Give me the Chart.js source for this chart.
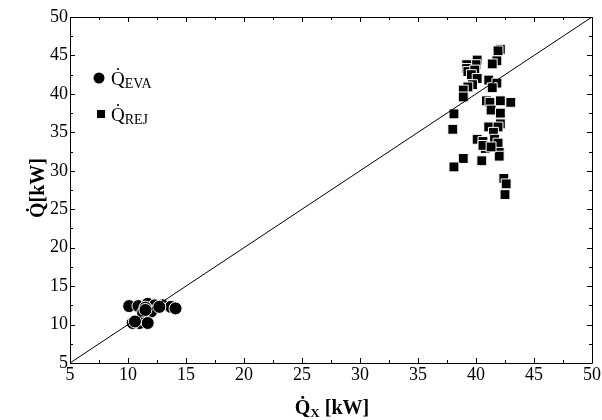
<!DOCTYPE html>
<html>
<head>
<meta charset="utf-8">
<script src="https://cdn.jsdelivr.net/npm/chart.js@4.4.0/dist/chart.umd.min.js"></script>
<style>
  html, body { margin: 0; padding: 0; background: #fff; }
  #wrap { width: 602px; height: 420px; position: relative; }
</style>
</head>
<body>
<div id="wrap"><canvas id="qChart"></canvas></div>
<script>
// evaporator heat vs. Q_X [kW]
const evaX = [10.1, 10.9, 11.7, 12.3, 13.0, 13.7, 14.1, 11.3, 12.0, 10.4, 11.0, 11.7, 11.5, 12.7, 10.6, 11.5];
const evaY = [12.4, 12.4, 12.7, 12.5, 12.5, 12.3, 12.1, 11.5, 11.7, 10.2, 10.2, 10.2, 12.2, 12.3, 10.4, 11.9];

// rejected heat vs. Q_X [kW]
const rejX = [42.1, 41.9, 41.8, 41.4, 40.1, 40.0, 39.2, 39.2, 39.3, 39.9, 39.6, 40.1, 39.7, 39.3, 38.9, 38.9,
              41.1, 41.8, 41.4, 40.9, 41.2, 42.1, 43.0, 41.3, 42.1, 38.1, 38.0, 41.1, 42.1, 41.9, 41.5, 40.1,
              40.6, 40.8, 41.6, 41.9, 42.0, 42.0, 38.9, 40.5, 38.1, 42.4, 42.6, 42.5, 40.6, 41.3];
const rejY = [45.8, 45.6, 44.3, 43.9, 44.4, 43.8, 43.8, 43.3, 42.9, 43.1, 42.5, 42.0, 41.2, 40.9, 40.5, 39.6,
              41.8, 41.4, 40.8, 39.1, 38.9, 39.1, 38.9, 37.9, 37.5, 37.4, 35.4, 35.7, 36.1, 35.7, 35.0, 34.1,
              33.8, 32.9, 34.1, 33.6, 32.4, 31.9, 31.6, 31.3, 30.5, 29.0, 28.3, 26.9, 33.3, 33.1];

// y = x reference line
const lineX = [5, 50];
const lineY = [5, 50];

const axisMin = 5;
const axisMax = 50;
const tickStep = 5;

const serif = '"Liberation Serif", "Times New Roman", serif';

function toPoints(xs, ys) {
    return xs.map((x, i) => ({ x: x, y: ys[i] }));
}

// Q with a dot on top, plus an optional subscript
function drawQdot(ctx, x, y, sub, size, subSize, bold) {
    const weight = bold ? 'bold ' : '';
    ctx.font = weight + size + 'px ' + serif;
    ctx.textAlign = 'left';
    ctx.textBaseline = 'alphabetic';
    ctx.fillText('Q\u0307', x, y);
    let cx = x + ctx.measureText('Q').width;
    if (sub) {
        ctx.font = weight + subSize + 'px ' + serif;
        ctx.fillText(sub, cx, y + 3);
        cx += ctx.measureText(sub).width;
    }
    return cx;
}

const framePlugin = {
    id: 'frame',
    beforeDatasetsDraw(chart) {
        const ctx = chart.ctx;
        const a = chart.chartArea;
        const xs = chart.scales.x;
        const ys = chart.scales.y;
        ctx.save();
        ctx.strokeStyle = '#000';
        ctx.lineWidth = 1;
        ctx.beginPath();
        ctx.rect(Math.round(a.left) + 0.5, Math.round(a.top) + 0.5,
                 Math.round(a.right - a.left), Math.round(a.bottom - a.top));
        ctx.stroke();

        // inward ticks on all four sides
        ctx.beginPath();
        for (let v = axisMin; v <= axisMax + 0.01; v += tickStep / 2) {
            const major = Math.abs((v - axisMin) % tickStep) < 0.01;
            const len = major ? 5 : 3;
            const px = Math.round(xs.getPixelForValue(v)) + 0.5;
            const py = Math.round(ys.getPixelForValue(v)) + 0.5;
            ctx.moveTo(px, a.bottom); ctx.lineTo(px, a.bottom - len);
            ctx.moveTo(px, a.top); ctx.lineTo(px, a.top + len);
            ctx.moveTo(a.left, py); ctx.lineTo(a.left + len, py);
            ctx.moveTo(a.right, py); ctx.lineTo(a.right - len, py);
        }
        ctx.stroke();
        ctx.restore();
    },
    afterDraw(chart) {
        const ctx = chart.ctx;
        ctx.save();
        ctx.fillStyle = '#000';

        // legend
        ctx.beginPath();
        ctx.arc(99, 78, 5.5, 0, Math.PI * 2);
        ctx.fill();
        drawQdot(ctx, 111, 85, 'EVA', 19, 14, false);
        ctx.fillRect(97, 110, 8, 8);
        drawQdot(ctx, 111, 121, 'REJ', 19, 14, false);

        // x axis title
        ctx.font = 'bold 20px ' + serif;
        const wQ = ctx.measureText('Q').width;
        ctx.font = 'bold 13px ' + serif;
        const wX = ctx.measureText('X').width;
        ctx.font = 'bold 20px ' + serif;
        const wRest = ctx.measureText(' [kW]').width;
        let tx = 332 - (wQ + wX + wRest) / 2;
        tx = drawQdot(ctx, tx, 414, 'X', 20, 13, true);
        ctx.font = 'bold 20px ' + serif;
        ctx.fillText(' [kW]', tx, 414);

        // y axis title
        ctx.translate(44, 188);
        ctx.rotate(-Math.PI / 2);
        ctx.font = 'bold 20px ' + serif;
        ctx.textAlign = 'center';
        ctx.textBaseline = 'alphabetic';
        ctx.fillText('Q\u0307[kW]', 0, 0);
        ctx.restore();
    }
};

const tickFont = { family: serif, size: 18 };

const ctx = document.getElementById('qChart').getContext('2d');
const qChart = new Chart(ctx, {
    data: {
        datasets: [
            {
                type: 'line',
                label: 'y = x',
                data: toPoints(lineX, lineY),
                borderColor: '#000',
                borderWidth: 1,
                pointRadius: 0,
                fill: false
            },
            {
                type: 'scatter',
                label: 'Q_EVA',
                data: toPoints(evaX, evaY),
                pointStyle: 'circle',
                pointRadius: 6.5,
                backgroundColor: '#000',
                borderColor: '#fff',
                borderWidth: 1
            },
            {
                type: 'scatter',
                label: 'Q_REJ',
                data: toPoints(rejX, rejY),
                pointStyle: 'rect',
                pointRadius: 7,
                backgroundColor: '#000',
                borderColor: '#fff',
                borderWidth: 1
            }
        ]
    },
    options: {
        responsive: true,
        maintainAspectRatio: false,
        animation: false,
        devicePixelRatio: 1,
        layout: { padding: { top: 17, right: 7, left: 0, bottom: 0 } },
        plugins: {
            legend: { display: false },
            tooltip: { enabled: false }
        },
        scales: {
            x: {
                type: 'linear',
                min: axisMin,
                max: axisMax,
                grid: { display: false, drawTicks: false },
                border: { display: false },
                ticks: { stepSize: tickStep, color: '#000', font: tickFont, padding: 1, maxRotation: 0, autoSkip: false },
                afterFit(scale) { scale.height = 57; }
            },
            y: {
                type: 'linear',
                min: axisMin,
                max: axisMax,
                grid: { display: false, drawTicks: false },
                border: { display: false },
                ticks: { stepSize: tickStep, color: '#000', font: tickFont, padding: 2, autoSkip: false },
                afterFit(scale) { scale.width = 70; }
            }
        }
    },
    plugins: [framePlugin]
});
</script>
</body>
</html>
